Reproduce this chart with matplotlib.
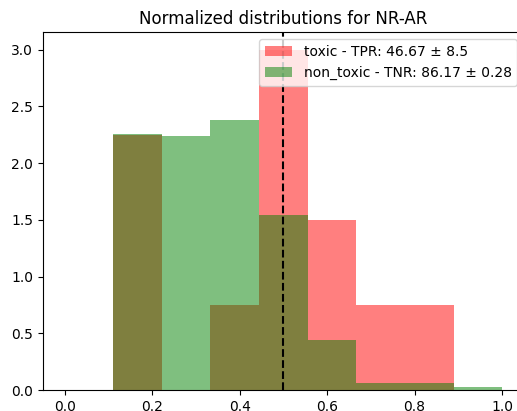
import numpy as np
import matplotlib.pyplot as plt

# normalized histogram heights (9 equal bins on [0, 1])
bin_edges = np.linspace(0, 1, 10)
toxic_density = [0, 2.25, 0, 0.75, 3.0, 1.5, 0.75, 0.75, 0]
non_toxic_density = [0, 2.26, 2.24, 2.38, 1.54, 0.44, 0.064, 0.064, 0.024]
threshold = 0.5

toxic_label = "toxic - TPR: 46.67 ± 8.5"
non_toxic_label = "non_toxic - TNR: 86.17 ± 0.28"

fig = plt.figure(figsize=(5.17, 4.11), dpi=100)
ax = fig.add_axes([42.7 / 517, 21 / 411, (524 - 42.7) / 517, (390 - 32.5) / 411])

ax.hist(bin_edges[:-1], bins=bin_edges, weights=toxic_density,
        color="red", alpha=0.5, label=toxic_label)
ax.hist(bin_edges[:-1], bins=bin_edges, weights=non_toxic_density,
        color="green", alpha=0.5, label=non_toxic_label)
ax.axvline(threshold, color="black", linestyle="--")

ax.set_title("Normalized distributions for NR-AR")
ax.legend(loc="upper right")

fig.savefig("out.png", dpi=100)
